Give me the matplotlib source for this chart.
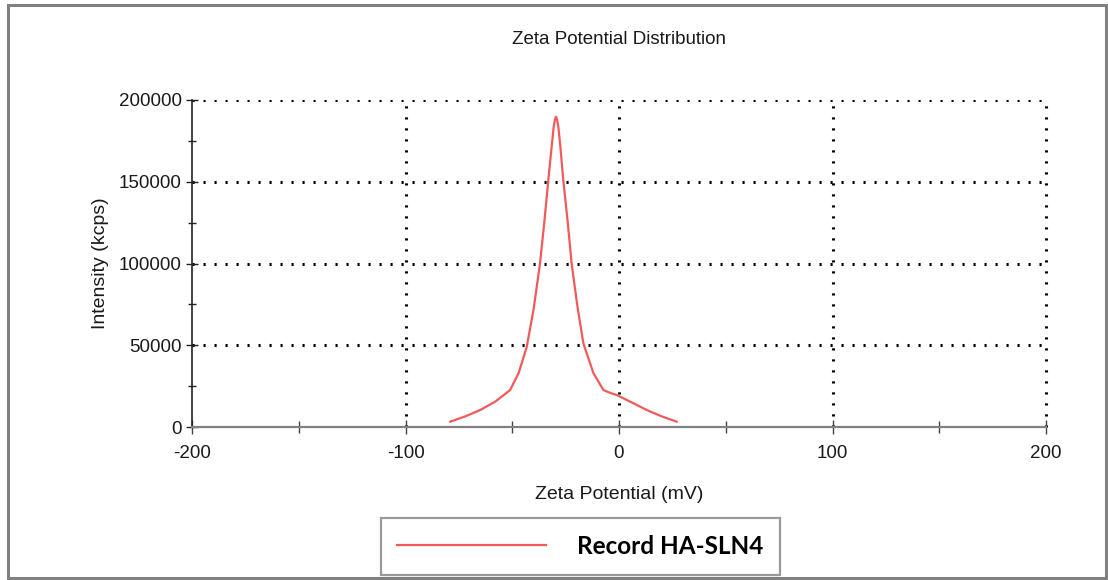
import matplotlib
matplotlib.use("Agg")
import matplotlib.pyplot as plt
from matplotlib.patches import Rectangle
from matplotlib.ticker import MultipleLocator

zeta_mv = [-79, -72, -65, -58, -51, -47, -43.2, -40, -37, -35, -33.1, -31.5, -30.6, -30,
           -29.5, -29, -28.4, -27.5, -26.1, -24, -22.2, -19.5, -16.7, -12, -7.3, -4, -1.1,
           6, 13, 20, 27]
intensity = [3250, 6500, 10400, 15500, 22600, 33000, 49100, 72000, 100100, 125000,
             151000, 172000, 183500, 188000, 189800, 188000, 183500, 172000, 151000,
             125000, 100100, 74000, 51200, 33000, 22600, 20800, 19600, 15000, 10400,
             6500, 3250]
series_label = "Record HA-SLN4"
title = "Zeta Potential Distribution"
xlabel = "Zeta Potential (mV)"
ylabel = "Intensity (kcps)"
x_ticks = [-200, -100, 0, 100, 200]
y_ticks = [0, 50000, 100000, 150000, 200000]

plt.rcParams['font.family'] = ['Liberation Sans', 'DejaVu Sans']

W, H = 1108, 580
fig = plt.figure(figsize=(W / 100, H / 100), dpi=100)
ax = fig.add_axes([192 / W, 1 - 427 / H, (1046 - 192) / W, (427 - 100) / H])

line, = ax.plot(zeta_mv, intensity, color="#f25a5a", lw=1.6, label=series_label, zorder=3)

ax.set_xlim(-200, 200)
ax.set_ylim(0, 200000)
ax.set_xticks(x_ticks)
ax.set_yticks(y_ticks)
ax.xaxis.set_minor_locator(MultipleLocator(50))
ax.yaxis.set_minor_locator(MultipleLocator(25000))
ax.set_xticklabels([str(v) for v in x_ticks])
ax.set_yticklabels([str(v) for v in y_ticks])

ax.tick_params(axis='both', which='both', direction='inout', labelsize=13.5,
               colors='#1a1a1a')
ax.tick_params(axis='x', which='major', length=10, width=1.0, color='#444444', pad=8)
ax.tick_params(axis='x', which='minor', length=9, width=1.0, color='#444444')
ax.tick_params(axis='y', which='major', length=9, width=1.0, color='#222222', pad=3)
ax.tick_params(axis='y', which='minor', length=6, width=1.0, color='#222222')

for s in ['top', 'right']:
    ax.spines[s].set_visible(False)
ax.spines['left'].set_color('#222222')
ax.spines['left'].set_linewidth(1.2)
ax.spines['bottom'].set_color('#808080')
ax.spines['bottom'].set_linewidth(1.6)

dot = (0, (0.7, 2.9))
for yv in y_ticks[1:]:
    ax.axhline(yv, color='black', lw=2.2, linestyle=dot, zorder=1)
for xv in x_ticks[1:]:
    ax.axvline(xv, color='black', lw=2.2, linestyle=dot, zorder=1, clip_on=False)

ax.set_title(title, fontsize=13.5, color='#1a1a1a', pad=40)
ax.set_xlabel(xlabel, fontsize=14, color='#1a1a1a', labelpad=17)
ax.set_ylabel(ylabel, fontsize=14, color='#1a1a1a', labelpad=7)

leg = fig.legend(handles=[line], loc='center', bbox_to_anchor=(580.5 / W, 1 - 546.5 / H),
                 frameon=True, fancybox=False, handlelength=6.1, handletextpad=1.3,
                 borderpad=0.68, prop={'family': 'Lato', 'weight': 'bold', 'size': 17.5})
leg.get_frame().set_edgecolor('#808080')
leg.get_frame().set_linewidth(1.6)

fig.patches.append(Rectangle((8 / W, 2 / H), 1098 / W, 573 / H, transform=fig.transFigure,
                             fill=False, edgecolor='#808080', lw=2.2))

fig.savefig("out.png", dpi=100)
